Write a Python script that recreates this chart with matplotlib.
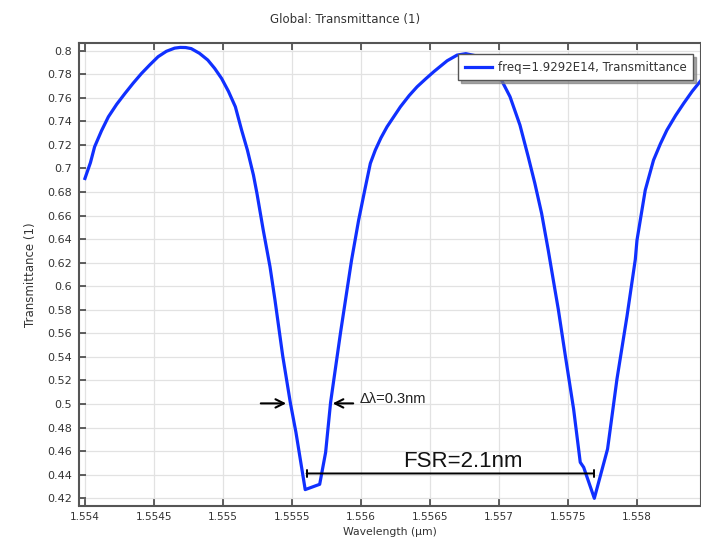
import matplotlib
matplotlib.use("Agg")
import matplotlib.pyplot as plt
import numpy as np

# wavelength (um) and transmittance
wavelength = [
    1.55400, 1.55404, 1.55407, 1.55412, 1.55417, 1.55423, 1.55429, 1.55435,
    1.55441, 1.55447, 1.55453, 1.55459, 1.55465, 1.55469, 1.55473, 1.55477,
    1.55483, 1.55489, 1.55494, 1.55499, 1.55504, 1.55509, 1.555135, 1.555177,
    1.555221, 1.555246, 1.555292, 1.555341, 1.555377, 1.555433, 1.555488,
    1.555529, 1.555596, 1.555701, 1.555744, 1.555780, 1.555852, 1.555932,
    1.555983, 1.556030, 1.556068, 1.556104, 1.556145, 1.556189, 1.556286,
    1.556350, 1.556407, 1.556470, 1.556528, 1.556580, 1.556625, 1.556697,
    1.556760, 1.556840, 1.556930, 1.557012, 1.557080, 1.557152, 1.557212,
    1.557260, 1.557309, 1.557357, 1.557406, 1.557430, 1.557481, 1.557541,
    1.557589, 1.557614, 1.557691, 1.557787, 1.557855, 1.557928, 1.557988,
    1.558000, 1.558060, 1.558120, 1.558170, 1.558217, 1.558280, 1.558338,
    1.558400, 1.558466, 1.558520,
]
transmittance = [
    0.6915, 0.7050, 0.7184, 0.7320, 0.7439, 0.7545, 0.7637, 0.7725,
    0.7807, 0.7880, 0.7949, 0.7995, 0.8022, 0.8028, 0.8027, 0.8018,
    0.7978, 0.7921, 0.7850, 0.7765, 0.7655, 0.7524, 0.7327, 0.7157,
    0.6944, 0.6791, 0.6477, 0.6166, 0.5883, 0.5409, 0.5013,
    0.4759, 0.4273, 0.4318, 0.4589, 0.5013, 0.5606, 0.6222,
    0.6560, 0.6830, 0.7043, 0.7156, 0.7260, 0.7354, 0.7524,
    0.7620, 0.7694, 0.7762, 0.7822, 0.7872, 0.7915, 0.7963,
    0.7975, 0.7955, 0.7880, 0.7765, 0.7610, 0.7369, 0.7100,
    0.6874, 0.6619, 0.6307, 0.5968, 0.5804, 0.5409, 0.4956,
    0.4505, 0.4462, 0.4199, 0.4618, 0.5211, 0.5747, 0.6228,
    0.6390, 0.6816, 0.7071, 0.7210, 0.7326, 0.7450, 0.7552,
    0.7655, 0.7751, 0.7830,
]

x_ticks = [1.554, 1.5545, 1.555, 1.5555, 1.556, 1.5565, 1.557, 1.5575, 1.558]
x_tick_labels = ["1.554", "1.5545", "1.555", "1.5555", "1.556", "1.5565",
                 "1.557", "1.5575", "1.558"]
y_ticks = np.round(np.arange(0.42, 0.801, 0.02), 2)

fsr_range = (1.555606, 1.557686)
fsr_level = 0.441
fwhm_level = 0.5005

plt.rcParams["font.family"] = "DejaVu Sans"
fig = plt.figure(figsize=(7.01, 5.43), dpi=100)
ax = fig.add_axes([79 / 701, 37.5 / 543, 622 / 701, 462.2 / 543])

ax.plot(wavelength, transmittance, color="#1030ff", lw=2.3,
        label="freq=1.9292E14, Transmittance")

ax.set_xlim(1.553957, 1.558464)
ax.set_ylim(0.4138, 0.8063)
ax.set_xticks(x_ticks)
ax.set_xticklabels(x_tick_labels)
ax.set_yticks(y_ticks)
ax.set_yticklabels(["%g" % v for v in y_ticks])
ax.grid(True, color="#e2e2e2", lw=0.9)
ax.set_axisbelow(True)
ax.tick_params(direction="in", length=5, width=1.2, color="#444444",
               labelcolor="#333333", top=True, pad=5)
ax.tick_params(axis="x", labelsize=7.5)
ax.tick_params(axis="y", labelsize=8)
for s in ax.spines.values():
    s.set_color("#555555")
    s.set_linewidth(1.5)

ax.set_xlabel("Wavelength (µm)", fontsize=7.8, color="#333333", labelpad=3)
ax.set_ylabel("Transmittance (1)", fontsize=8.5, color="#333333", labelpad=7)
fig.text(345 / 701, 1 - 20 / 543, "Global: Transmittance (1)", fontsize=8.5,
         color="#333333", ha="center", va="center")

leg = ax.legend(loc="upper right", bbox_to_anchor=(0.987, 0.976),
                fontsize=8.5, fancybox=False,
                shadow={"color": "0.5", "alpha": 0.7}, framealpha=1,
                handlelength=2.3, handletextpad=0.5, borderpad=0.55,
                borderaxespad=0)
leg.get_frame().set_edgecolor("#555555")
leg.get_frame().set_linewidth(1.0)
for t in leg.get_texts():
    t.set_color("#333333")

# FWHM arrows
arrow = dict(arrowstyle="->", color="black", lw=1.5, mutation_scale=15)
ax.annotate("", xy=(1.555478, fwhm_level), xytext=(1.555254, fwhm_level),
            arrowprops=arrow)
ax.annotate("", xy=(1.555775, fwhm_level), xytext=(1.555964, fwhm_level),
            arrowprops=arrow)
ax.text(1.555993, 0.5042, "Δλ=0.3nm", fontsize=10.5, family="Liberation Sans",
        color="#222222", ha="left", va="center")

# FSR bar
ax.annotate("", xy=(fsr_range[0], fsr_level), xytext=(fsr_range[1], fsr_level),
            arrowprops=dict(arrowstyle="|-|, widthA=0.22, widthB=0.22",
                            color="black", lw=1.4, shrinkA=0, shrinkB=0))
ax.text(1.556739, 0.4515, "FSR=2.1nm", fontsize=16, family="Liberation Sans",
        color="#111111", ha="center", va="center")

fig.savefig("out.png", dpi=100)
